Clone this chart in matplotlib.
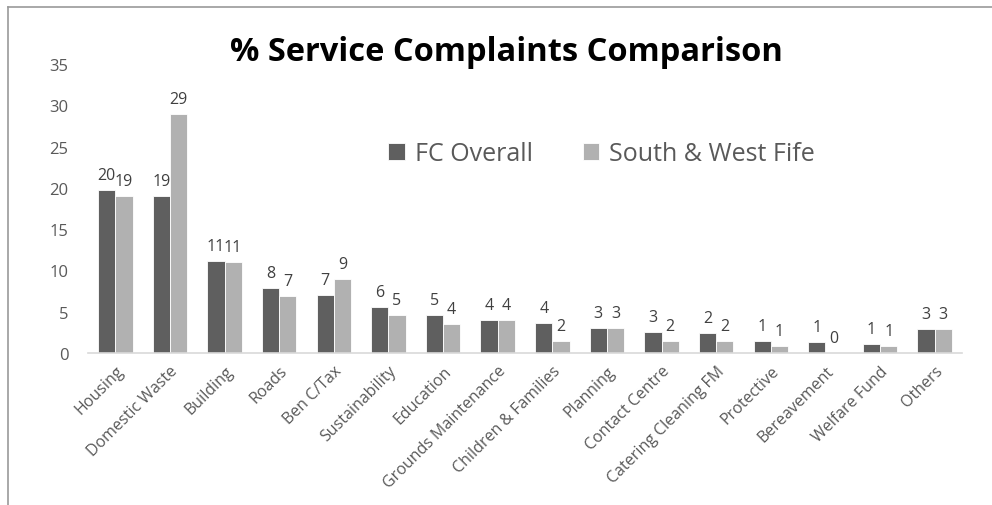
import matplotlib
matplotlib.use("Agg")
import matplotlib.pyplot as plt
import numpy as np
from matplotlib.lines import Line2D

categories = ["Housing", "Domestic Waste", "Building", "Roads", "Ben C/Tax",
              "Sustainability", "Education", "Grounds Maintenance",
              "Children & Families", "Planning", "Contact Centre",
              "Catering Cleaning FM", "Protective", "Bereavement",
              "Welfare Fund", "Others"]
fc_overall = [19.7, 19.0, 11.2, 7.9, 7.0, 5.55, 4.6, 4.0, 3.6, 3.0, 2.55, 2.4, 1.4, 1.3, 1.1, 2.9]
south_west = [19.0, 28.9, 11.0, 6.9, 9.0, 4.55, 3.55, 4.0, 1.5, 3.0, 1.5, 1.5, 0.9, 0.0, 0.9, 2.9]
series_names = ["FC Overall", "South & West Fife"]
yticks = [0, 5, 10, 15, 20, 25, 30, 35]

plt.rcParams['font.family'] = ['Open Sans', 'DejaVu Sans']

fig = plt.figure(figsize=(9.92, 5.06), dpi=100)
ax = fig.add_axes([88/992, 152/506, 874/992, (354-65)/506])

x = np.arange(len(categories))
w = 0.315
c1, c2 = "#5f5f5f", "#b1b1b1"
b1 = ax.bar(x - w/2, fc_overall, w, color=c1, edgecolor="white", linewidth=0.6, label=series_names[0])
b2 = ax.bar(x + w/2, south_west, w, color=c2, edgecolor="white", linewidth=0.6, label=series_names[1])

for bars, vals in ((b1, fc_overall), (b2, south_west)):
    for r, v in zip(bars, vals):
        ax.annotate(f"{v:.0f}", (r.get_x() + r.get_width()/2, v), xytext=(0, 5),
                    textcoords="offset points", ha="center", va="bottom",
                    fontsize=11.5, color="#404040")

ax.set_xlim(-0.5, len(categories) - 0.5)
ax.set_ylim(0, 35)
ax.set_yticks(yticks)
ax.set_xticks(x)
ax.set_xticklabels(categories, rotation=45, ha="right", rotation_mode="anchor",
                   fontsize=11.5, color="#595959")
ax.tick_params(axis="y", length=0, labelsize=12, labelcolor="#595959", pad=14)
ax.tick_params(axis="x", length=0, pad=7)
for s in ("top", "right", "left"):
    ax.spines[s].set_visible(False)
ax.spines["bottom"].set_color("#d9d9d9")
ax.spines["bottom"].set_linewidth(1.2)

fig.text(0.5105, 0.897, "% Service Complaints Comparison", ha="center", va="center",
         fontsize=23.5, fontweight="bold", color="black")

leg = ax.legend(loc="center", bbox_to_anchor=(0.5875, 0.689), ncol=2, frameon=False,
                fontsize=18, handlelength=0.65, handleheight=0.65, handletextpad=0.4,
                columnspacing=2.0, labelcolor="#595959")

fig.add_artist(Line2D([8/992, 1], [1 - 8/506, 1 - 8/506], color="#9a9a9a", lw=1.2))
fig.add_artist(Line2D([8/992, 8/992], [0, 1 - 8/506], color="#9a9a9a", lw=1.2))

fig.savefig("out.png", dpi=100)
